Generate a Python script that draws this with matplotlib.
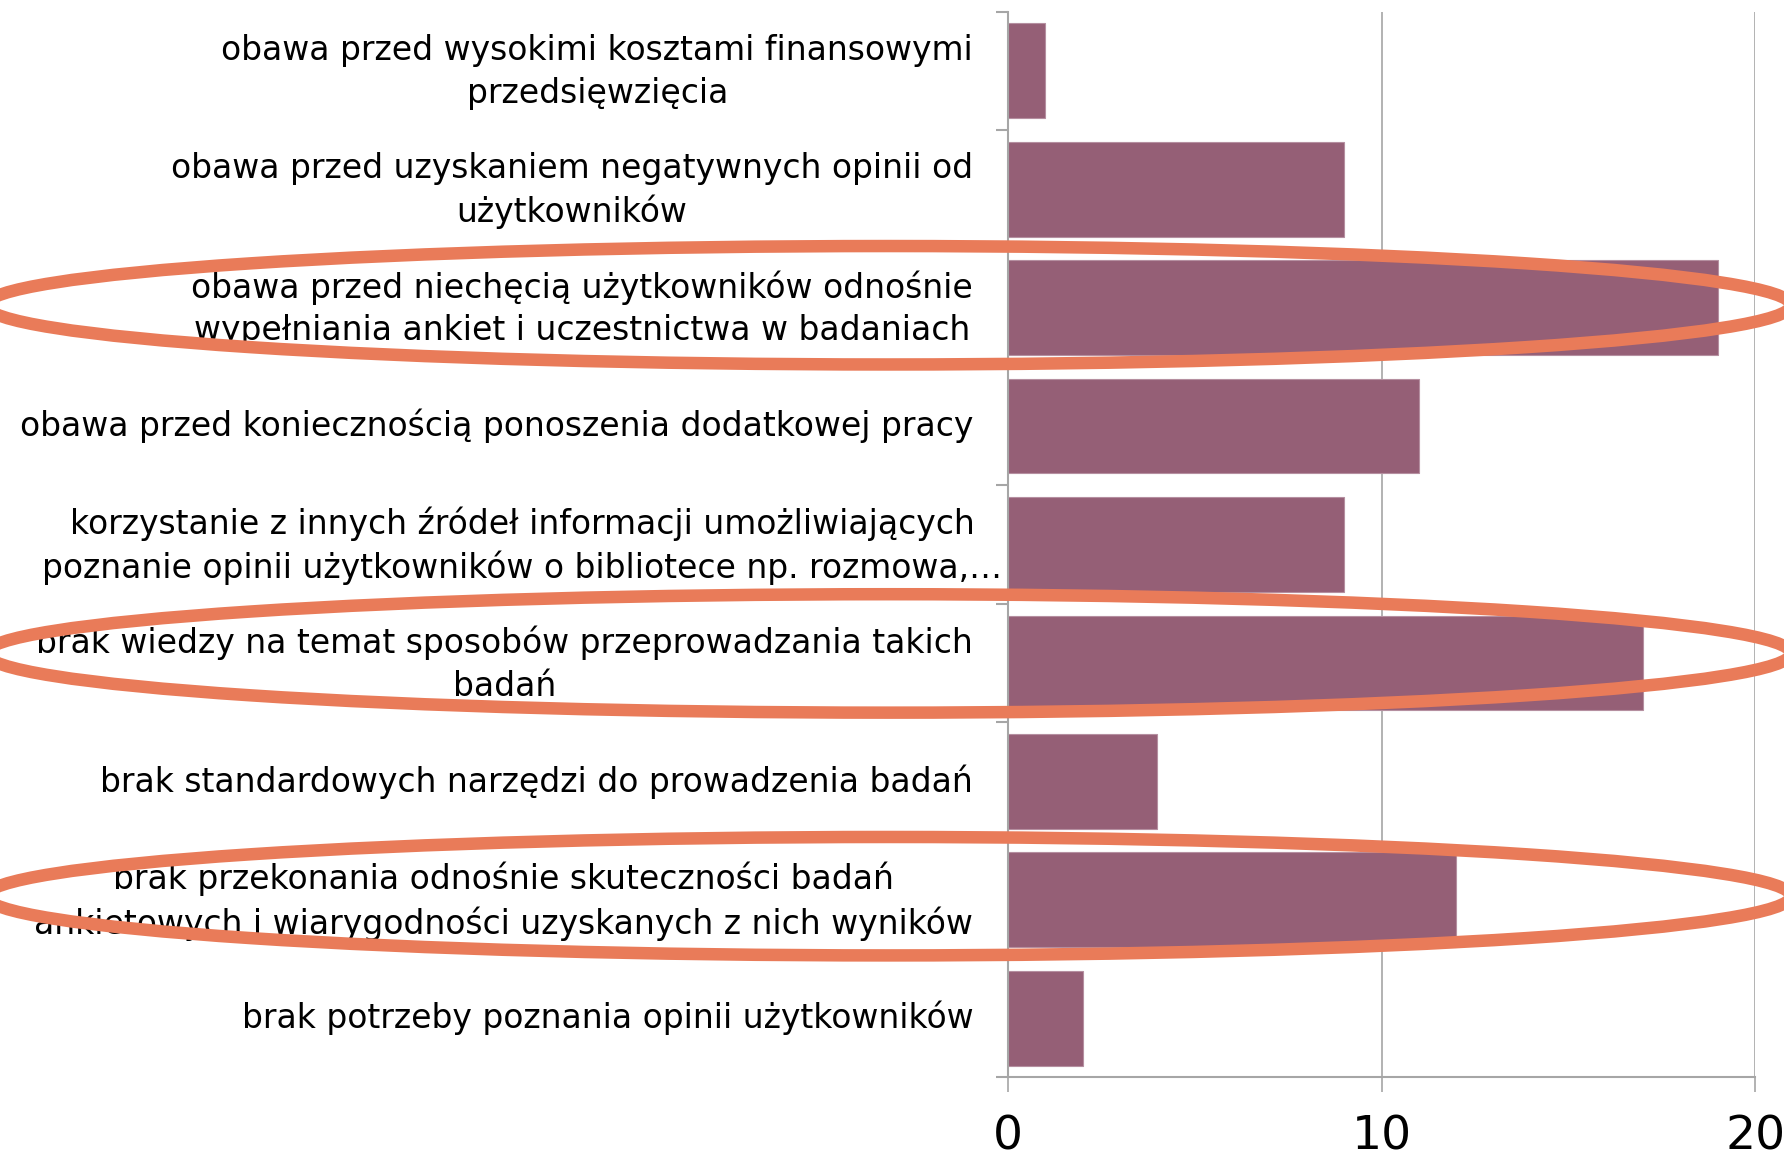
import matplotlib
matplotlib.use("Agg")
import matplotlib.pyplot as plt
from matplotlib.patches import Ellipse
from matplotlib import transforms

# dane (od góry do dołu)
labels = [
    "obawa przed wysokimi kosztami finansowymi\nprzedsięwzięcia",
    "obawa przed uzyskaniem negatywnych opinii od\nużytkowników",
    "obawa przed niechęcią użytkowników odnośnie\nwypełniania ankiet i uczestnictwa w badaniach",
    "obawa przed koniecznością ponoszenia dodatkowej pracy",
    "korzystanie z innych źródeł informacji umożliwiających\npoznanie opinii użytkowników o bibliotece np. rozmowa,…",
    "brak wiedzy na temat sposobów przeprowadzania takich\nbadań",
    "brak standardowych narzędzi do prowadzenia badań",
    "brak przekonania odnośnie skuteczności badań\nankietowych i wiarygodności uzyskanych z nich wyników",
    "brak potrzeby poznania opinii użytkowników",
]
values = [1, 9, 19, 11, 9, 17, 4, 12, 2]
highlighted = [2, 5, 7]  # kategorie zaznaczone elipsą

bar_color = "#955F76"
ring_color = "#E97B59"
axis_gray = "#A6A6A6"

fig = plt.figure(figsize=(17.84, 11.56), dpi=100)
ax = fig.add_axes([0.565, 0.068, 0.419, 0.922])

y = list(range(len(values)))
ax.barh(y, values, height=0.8, color=bar_color, edgecolor="#B58FA0", linewidth=0.8, zorder=2)

ax.set_xlim(0, 20)
ax.set_ylim(len(values) - 0.5, -0.5)
ax.set_xticks([0, 10, 20])
ax.set_yticks(y)
ax.set_yticks([k + 0.5 for k in range(-1, len(values))], minor=True)
ax.tick_params(axis="y", which="major", length=0, pad=25)
ax.tick_params(axis="y", which="minor", length=9, width=1.5, color=axis_gray)
ax.tick_params(axis="x", length=11, width=1.2, color=axis_gray, pad=16, labelsize=34)
ax.set_yticklabels(labels, fontsize=23.8, family="DejaVu Sans", linespacing=1.36)

# drobna korekta położenia etykiet (wyśrodkowanie jak w oryginale)
for t, lab in zip(ax.get_yticklabels(), labels):
    t.set_multialignment("center")
    dy = 5 if "\n" in lab else 2.5
    dx = 21 if lab.endswith("…") else 0
    t.set_transform(t.get_transform()
                    + transforms.ScaledTranslation(dx / 72, dy / 72, fig.dpi_scale_trans))

ax.grid(axis="x", color=axis_gray, linewidth=1.2, zorder=0)
for side in ["top", "right"]:
    ax.spines[side].set_visible(False)
for side in ["left", "bottom"]:
    ax.spines[side].set_color(axis_gray)
    ax.spines[side].set_linewidth(1.5)

# elipsy: x w jednostkach figury, y w jednostkach danych
trans = transforms.blended_transform_factory(fig.transFigure, ax.transData)
offsets = {2: -0.02, 5: -0.08, 7: -0.03}
for k in highlighted:
    ring = Ellipse((0.498, k + offsets[k]), width=1.012, height=1.0,
                   transform=trans, fill=False, edgecolor=ring_color,
                   linewidth=9, zorder=5, clip_on=False)
    fig.add_artist(ring)

fig.savefig("out.png", dpi=100)
